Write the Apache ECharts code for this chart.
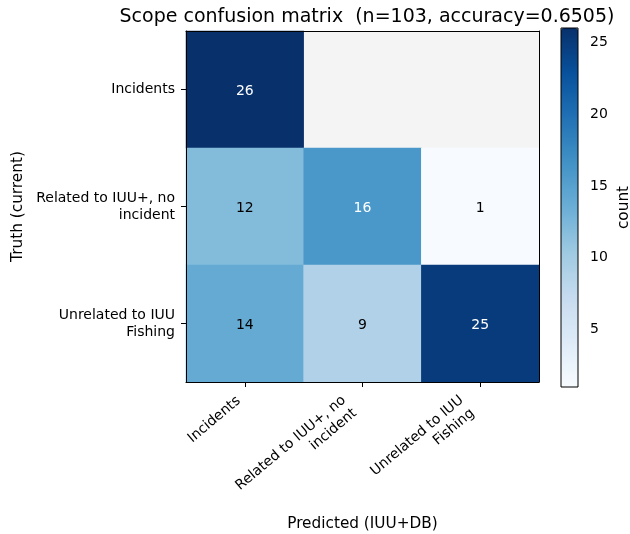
<!DOCTYPE html>
<html>
<head>
<meta charset="utf-8">
<script src="https://cdn.jsdelivr.net/npm/echarts@6/dist/echarts.min.js"></script>
<style>
  html, body { margin: 0; padding: 0; background: #fff; }
  #chart { width: 630px; height: 534px; }
</style>
</head>
<body>
<div id="chart"></div>
<script>
// categories (same order for truth rows and predicted columns)
var predictedLabels = ['Incidents', 'Related to IUU+, no\nincident', 'Unrelated to IUU\nFishing'];
var truthLabels = ['Incidents', 'Related to IUU+, no\nincident', 'Unrelated to IUU\nFishing'];
// counts[row = truth][col = predicted]; null = no cell drawn
var countsIncidents = [26, null, null];
var countsRelated = [12, 16, 1];
var countsUnrelated = [14, 9, 25];
var colorbarTicks = [5, 10, 15, 20, 25];
var vmin = 1, vmax = 26;

var blues = ['#f7fbff', '#deebf7', '#c6dbef', '#9ecae1', '#6baed6', '#4292c6', '#2171b5', '#08519c', '#08306b'];
var font = 'DejaVu Sans';
var lineH = 17;

var rows = [countsIncidents, countsRelated, countsUnrelated];
var cells = [];
rows.forEach(function (row, r) {
    row.forEach(function (v, c) {
        if (v === null) return;
        cells.push({
            value: [c, r, v],
            label: { color: v >= 15 ? '#ffffff' : '#000000' }
        });
    });
});

// rotated tick labels: shift so the block's bbox is right-aligned to the tick (like ha='right')
var xCats = predictedLabels.map(function (s) {
    var h = s.split('\n').length * lineH;
    return { value: s, textStyle: { padding: [Math.round(0.174 * h), Math.round(0.49 * h), 0, 0] } };
});

var myChart = echarts.init(document.getElementById('chart'));
var option = {
    backgroundColor: '#ffffff',
    animation: false,
    textStyle: { fontFamily: font },
    title: {
        text: 'Scope confusion matrix  (n=103, accuracy=0.6505)',
        left: 362, top: 3, textAlign: 'center',
        textStyle: { fontFamily: font, fontSize: 19, fontWeight: 'normal', color: '#000' }
    },
    grid: [
        { left: 186, top: 31, width: 353, height: 351, outerBoundsMode: 'none', show: true, backgroundColor: '#f4f4f4', borderWidth: 0 },
        { left: 561, top: 28, width: 17, height: 359, outerBoundsMode: 'none', show: true, backgroundColor: 'transparent', borderColor: '#000', borderWidth: 1, z: 10 }
    ],
    xAxis: [
        {
            type: 'category', gridIndex: 0, data: xCats, z: 10,
            name: 'Predicted (IUU+DB)', nameLocation: 'middle', nameGap: 130,
            nameTextStyle: { fontFamily: font, fontSize: 15.3, color: '#000' },
            axisLine: { show: true, lineStyle: { color: '#000', width: 1 } },
            axisTick: { show: true, alignWithLabel: true, length: 5, lineStyle: { color: '#000' } },
            axisLabel: { rotate: 40, margin: 12, fontFamily: font, fontSize: 14, color: '#000', interval: 0, lineHeight: lineH, hideOverlap: false },
            splitLine: { show: false }, splitArea: { show: false }
        },
        {
            type: 'category', gridIndex: 0, position: 'top', data: predictedLabels, z: 10,
            axisLine: { show: true, lineStyle: { color: '#000', width: 1 } },
            axisTick: { show: false }, axisLabel: { show: false }
        },
        { type: 'value', gridIndex: 1, show: false }
    ],
    yAxis: [
        {
            type: 'category', gridIndex: 0, data: truthLabels, inverse: true, z: 10,
            name: 'Truth (current)', nameLocation: 'middle', nameGap: 156, nameRotate: 90,
            nameTextStyle: { fontFamily: font, fontSize: 15.3, color: '#000' },
            axisLine: { show: true, lineStyle: { color: '#000', width: 1 } },
            axisTick: { show: true, alignWithLabel: true, length: 5, lineStyle: { color: '#000' } },
            axisLabel: { margin: 11, fontFamily: font, fontSize: 14, color: '#000', interval: 0, lineHeight: lineH },
            splitLine: { show: false }, splitArea: { show: false }
        },
        {
            type: 'category', gridIndex: 0, position: 'right', data: truthLabels, inverse: true, z: 10,
            axisLine: { show: true, lineStyle: { color: '#000', width: 1 } },
            axisTick: { show: false }, axisLabel: { show: false }
        },
        {
            type: 'value', gridIndex: 1, position: 'right', min: vmin, max: vmax,
            name: 'count', nameLocation: 'middle', nameGap: 39, nameRotate: 90,
            nameTextStyle: { fontFamily: font, fontSize: 15.3, color: '#000' },
            axisLine: { show: false },
            axisTick: { show: true, length: 5, customValues: colorbarTicks, lineStyle: { color: '#000' } },
            axisLabel: { margin: 12, fontFamily: font, fontSize: 14, color: '#000', customValues: colorbarTicks },
            splitLine: { show: false }
        }
    ],
    visualMap: {
        type: 'continuous', seriesIndex: 0, dimension: 2,
        min: vmin, max: vmax, calculable: false, hoverLink: false,
        orient: 'vertical', left: 561, top: 28, padding: 0,
        itemWidth: 17, itemHeight: 359,
        inRange: { color: blues },
        text: null, showLabel: false
    },
    series: [
        {
            type: 'heatmap', xAxisIndex: 0, yAxisIndex: 0,
            data: cells,
            label: { show: true, fontFamily: font, fontSize: 14, offset: [0, 2], formatter: function (p) { return p.value[2]; } },
            itemStyle: { borderWidth: 0 },
            emphasis: { disabled: true }
        }
    ]
};
myChart.setOption(option);
</script>
</body>
</html>
